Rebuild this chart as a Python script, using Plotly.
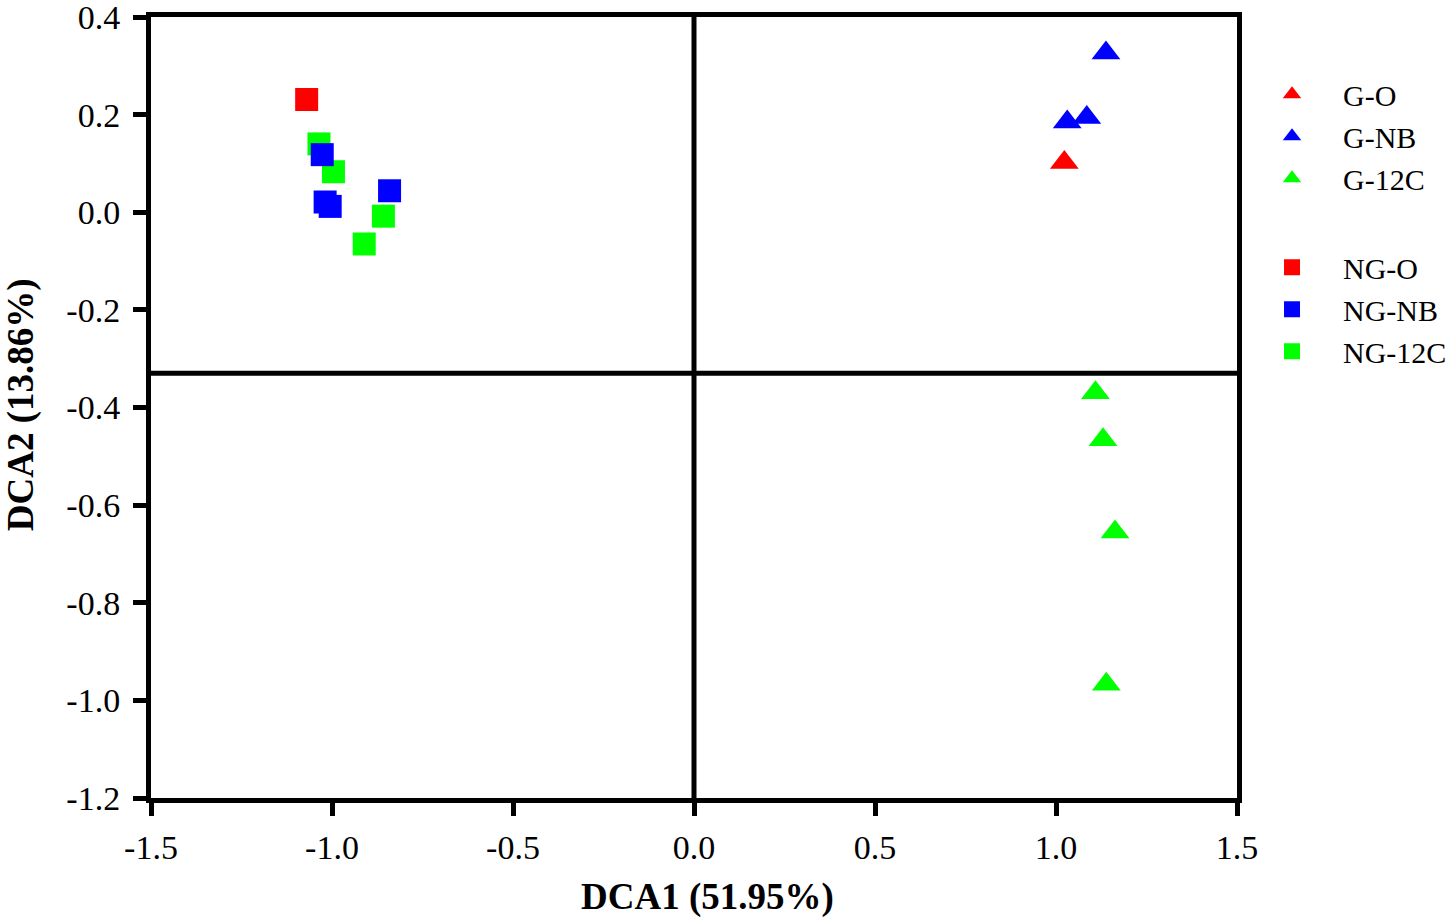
import plotly.graph_objects as go

# ---- data ----
G_O_x = [1.023]
G_O_y = [0.102]
G_NB_x = [1.138, 1.031, 1.085]
G_NB_y = [0.326, 0.185, 0.194]
G_12C_x = [1.109, 1.130, 1.163, 1.139]
G_12C_y = [-0.370, -0.466, -0.655, -0.967]

NG_O_x = [-1.070]
NG_O_y = [0.231]
NG_NB_x = [-1.027, -1.019, -1.005, -0.841]
NG_NB_y = [0.118, 0.021, 0.012, 0.044]
NG_12C_x = [-1.036, -0.996, -0.858, -0.911]
NG_12C_y = [0.140, 0.083, -0.008, -0.065]

x_ticks = [-1.5, -1.0, -0.5, 0.0, 0.5, 1.0, 1.5]
y_ticks = [0.4, 0.2, 0.0, -0.2, -0.4, -0.6, -0.8, -1.0, -1.2]
x_ref_line = 0.0
y_ref_line = -0.33
x_title = "DCA1 (51.95%)"
y_title = "DCA2 (13.86%)"

RED, BLUE, GREEN = "#FF0000", "#0000FF", "#00FF00"
FONT = "Liberation Serif"

fig = go.Figure()

def add(x, y, name, color, symbol, size, group, rank):
    fig.add_trace(go.Scatter(
        x=x, y=y, mode="markers", name=name,
        marker=dict(color=color, symbol=symbol, size=size, line=dict(width=0)),
        legendgroup=group, legendrank=rank,
    ))

add(NG_O_x, NG_O_y, "NG-O", RED, "square", 23, "NG", 4)
add(NG_12C_x, NG_12C_y, "NG-12C", GREEN, "square", 23, "NG", 6)
add(NG_NB_x, NG_NB_y, "NG-NB", BLUE, "square", 23, "NG", 5)
add(G_O_x, G_O_y, "G-O", RED, "triangle-up", 25, "G", 1)
add(G_NB_x, G_NB_y, "G-NB", BLUE, "triangle-up", 25, "G", 2)
add(G_12C_x, G_12C_y, "G-12C", GREEN, "triangle-up", 25, "G", 3)

fig.add_shape(type="line", xref="x", yref="paper", x0=x_ref_line, x1=x_ref_line,
              y0=0, y1=1, line=dict(color="black", width=5))
fig.add_shape(type="line", xref="paper", yref="y", x0=0, x1=1,
              y0=y_ref_line, y1=y_ref_line, line=dict(color="black", width=5))

axis_common = dict(
    showline=True, linecolor="black", linewidth=5, mirror=True,
    ticks="outside", ticklen=13, tickwidth=5, tickcolor="black",
    showgrid=False, zeroline=False, ticklabeloverflow="allow",
    tickfont=dict(family=FONT, size=34, color="black"),
)

fig.update_xaxes(range=[-1.5, 1.5], tickvals=x_ticks,
                 ticktext=[f"{v:.1f}" for v in x_ticks], ticklabelstandoff=2,
                 **axis_common)
fig.update_yaxes(range=[-1.2, 0.4], tickvals=y_ticks,
                 ticktext=[f"{v:.1f}" for v in y_ticks], ticklabelstandoff=6,
                 **axis_common)

fig.add_annotation(text=f"<b>{x_title}</b>", xref="paper", yref="paper",
                   x=0.512, y=-0.127, xanchor="center", yanchor="middle",
                   showarrow=False, font=dict(family=FONT, size=37, color="black"))
fig.add_annotation(text=f"<b>{y_title}</b>", xref="paper", yref="paper",
                   x=-0.1197, y=0.503, xanchor="center", yanchor="middle",
                   textangle=-90, showarrow=False,
                   font=dict(family=FONT, size=37, color="black"))

fig.update_layout(
    width=1447, height=921,
    margin=dict(l=151, r=210, t=17, b=123, autoexpand=False),
    plot_bgcolor="white", paper_bgcolor="white",
    showlegend=True,
    legend=dict(x=1.0037, y=0.9345, xanchor="left", yanchor="top",
                traceorder="grouped", tracegroupgap=47,
                font=dict(family=FONT, size=30, color="black"),
                itemwidth=92, bgcolor="rgba(0,0,0,0)"),
)

fig.write_html("out.html", config={"displayModeBar": False},
               post_script="document.body.style.margin='0px';")
